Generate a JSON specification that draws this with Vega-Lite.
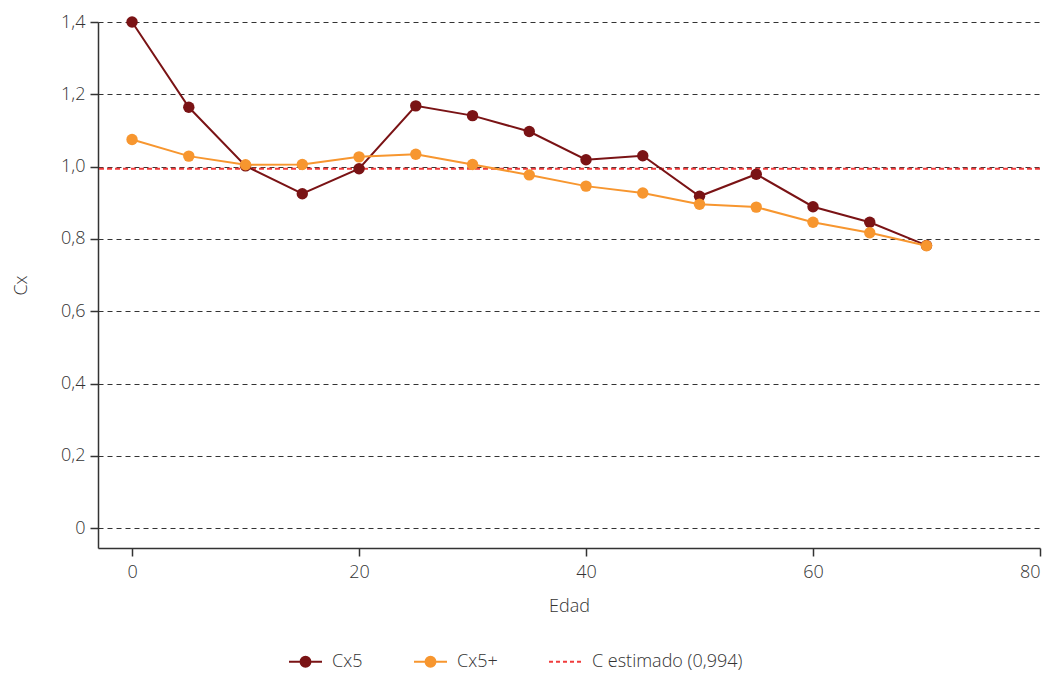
{
  "$schema": "https://vega.github.io/schema/vega-lite/v6.json",
  "width": 942,
  "height": 526,
  "autosize": {"type": "none"},
  "padding": {"left": 98, "top": 22, "right": 14, "bottom": 127},
  "background": "white",
  "config": {
    "view": {"stroke": null},
    "font": "Open Sans",
    "axis": {
      "labelFont": "Open Sans",
      "titleFont": "Open Sans",
      "labelFontSize": 18,
      "titleFontSize": 18,
      "labelFontWeight": 300,
      "titleFontWeight": 300,
      "labelColor": "#333333",
      "titleColor": "#333333",
      "domainColor": "#333333",
      "domainWidth": 1.5,
      "tickColor": "#333333",
      "tickWidth": 1.5,
      "tickSize": 8
    }
  },
  "data": {
    "values": [
      {"edad": 0, "cx": 1.400, "serie": "Cx5"},
      {"edad": 5, "cx": 1.164, "serie": "Cx5"},
      {"edad": 10, "cx": 1.002, "serie": "Cx5"},
      {"edad": 15, "cx": 0.925, "serie": "Cx5"},
      {"edad": 20, "cx": 0.994, "serie": "Cx5"},
      {"edad": 25, "cx": 1.168, "serie": "Cx5"},
      {"edad": 30, "cx": 1.141, "serie": "Cx5"},
      {"edad": 35, "cx": 1.097, "serie": "Cx5"},
      {"edad": 40, "cx": 1.019, "serie": "Cx5"},
      {"edad": 45, "cx": 1.030, "serie": "Cx5"},
      {"edad": 50, "cx": 0.918, "serie": "Cx5"},
      {"edad": 55, "cx": 0.979, "serie": "Cx5"},
      {"edad": 60, "cx": 0.889, "serie": "Cx5"},
      {"edad": 65, "cx": 0.846, "serie": "Cx5"},
      {"edad": 70, "cx": 0.782, "serie": "Cx5"},
      {"edad": 0, "cx": 1.075, "serie": "Cx5+"},
      {"edad": 5, "cx": 1.029, "serie": "Cx5+"},
      {"edad": 10, "cx": 1.005, "serie": "Cx5+"},
      {"edad": 15, "cx": 1.006, "serie": "Cx5+"},
      {"edad": 20, "cx": 1.027, "serie": "Cx5+"},
      {"edad": 25, "cx": 1.034, "serie": "Cx5+"},
      {"edad": 30, "cx": 1.006, "serie": "Cx5+"},
      {"edad": 35, "cx": 0.977, "serie": "Cx5+"},
      {"edad": 40, "cx": 0.946, "serie": "Cx5+"},
      {"edad": 45, "cx": 0.927, "serie": "Cx5+"},
      {"edad": 50, "cx": 0.896, "serie": "Cx5+"},
      {"edad": 55, "cx": 0.888, "serie": "Cx5+"},
      {"edad": 60, "cx": 0.846, "serie": "Cx5+"},
      {"edad": 65, "cx": 0.817, "serie": "Cx5+"},
      {"edad": 70, "cx": 0.781, "serie": "Cx5+"}
    ]
  },
  "encoding": {
    "x": {
      "field": "edad",
      "type": "quantitative",
      "title": "Edad",
      "scale": {"domain": [-3, 80], "nice": false, "zero": false},
      "axis": {"values": [0, 20, 40, 60, 80], "grid": false, "labelPadding": 7, "titlePadding": 16}
    },
    "y": {
      "field": "cx",
      "type": "quantitative",
      "title": "Cx",
      "scale": {"domain": [-0.055, 1.4], "nice": false, "zero": false},
      "axis": {
        "values": [0, 0.2, 0.4, 0.6, 0.8, 1.0, 1.2, 1.4],
        "labelExpr": "datum.value == 0 ? '0' : replace(format(datum.value, '.1f'), '.', ',')",
        "labelPadding": 5,
        "grid": true,
        "gridColor": "#333333",
        "gridDash": [5, 4],
        "gridWidth": 1,
        "titlePadding": 30
      }
    },
    "color": {
      "field": "serie",
      "type": "nominal",
      "scale": {
        "domain": ["Cx5", "Cx5+", "C estimado"],
        "range": ["#7a1315", "#f7962f", "#f03c3c"]
      },
      "legend": {
        "title": null,
        "orient": "none",
        "direction": "horizontal",
        "legendX": 190,
        "legendY": 622,
        "padding": 0,
        "labelFont": "Open Sans",
        "labelFontSize": 18,
        "labelFontWeight": 300,
        "labelColor": "#333333",
        "labelOffset": 9,
        "columnPadding": 47,
        "symbolSize": 1089,
        "symbolStrokeWidth": 2,
        "symbolType": "M-1,0L1,0",
        "labelExpr": "datum.value === 'C estimado' ? 'C estimado (0,994)' : datum.value",
        "encode": {
          "symbols": {
            "update": {
              "shape": {"signal": "datum.value === 'C estimado' ? 'M-1,0L1,0' : 'M-1,0L1,0M0.3,0C0.3,0.166,0.166,0.3,0,0.3C-0.166,0.3,-0.3,0.166,-0.3,0C-0.3,-0.166,-0.166,-0.3,0,-0.3C0.166,-0.3,0.3,-0.166,0.3,0Z'"},
              "strokeDash": {"signal": "datum.value === 'C estimado' ? [4, 3] : []"},
              "stroke": {"scale": "color", "field": "value"},
              "fill": {"scale": "color", "field": "value"},
              "strokeWidth": {"value": 2},
              "opacity": {"value": 1}
            }
          }
        }
      }
    }
  },
  "layer": [
    {
      "data": {"values": [{"c": 0.994, "serie": "C estimado"}]},
      "mark": {"type": "rule", "strokeDash": [5, 3], "strokeWidth": 2},
      "encoding": {
        "x": null,
        "y": {"field": "c", "type": "quantitative"},
        "color": {"field": "serie", "type": "nominal"}
      }
    },
    {
      "mark": {"type": "line", "strokeWidth": 2},
      "encoding": {}
    },
    {
      "mark": {"type": "point", "filled": true, "size": 130, "opacity": 1},
      "encoding": {}
    }
  ]
}
